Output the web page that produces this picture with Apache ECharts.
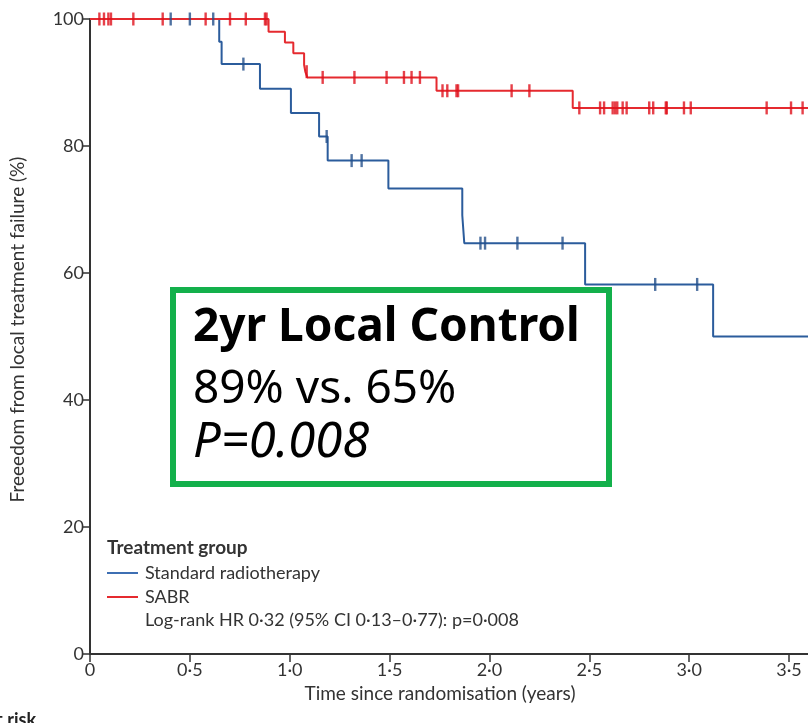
<!DOCTYPE html>
<html>
<head>
<meta charset="utf-8">
<script src="https://cdn.jsdelivr.net/npm/echarts@6/dist/echarts.min.js"></script>
<style>
html,body{margin:0;padding:0;background:#fff;}
#chart{width:808px;height:723px;}
</style>
</head>
<body>
<div id="chart"></div>
<script>
// Kaplan-Meier step points [years, %]
var standardSteps = [[0,100],[0.647,96.4],[0.659,92.9],[0.851,89.0],[1.006,85.2],[1.147,81.5],[1.19,77.7],[1.494,73.3],[1.864,69.1],[1.874,64.7],[2.479,58.2],[3.12,50.0],[3.6,50.0]];
var sabrSteps = [[0,100],[0.894,98.0],[0.976,96.3],[1.018,94.6],[1.072,92.8],[1.078,91.7],[1.088,90.8],[1.735,88.7],[2.417,86.0],[3.6,86.0]];
// Censor marks [years, %]
var standardCensored = [[0.404,100],[0.5,100],[0.617,100],[0.768,92.9],[1.185,81.5],[1.31,77.7],[1.36,77.7],[1.955,64.7],[1.978,64.7],[2.14,64.7],[2.366,64.7],[2.83,58.2],[3.04,58.2]];
var sabrCensored = [[0.047,100],[0.07,100],[0.092,100],[0.105,100],[0.217,100],[0.364,100],[0.579,100],[0.701,100],[0.78,100],[0.876,100],[0.884,100],[1.085,91.7],[1.165,90.8],[1.324,90.8],[1.485,90.8],[1.572,90.8],[1.61,90.8],[1.652,90.8],[1.765,88.7],[1.789,88.7],[1.835,88.7],[1.843,88.7],[2.111,88.7],[2.2,88.7],[2.45,86.0],[2.554,86.0],[2.574,86.0],[2.617,86.0],[2.629,86.0],[2.64,86.0],[2.667,86.0],[2.687,86.0],[2.8,86.0],[2.82,86.0],[2.883,86.0],[2.888,86.0],[2.974,86.0],[3.008,86.0],[3.388,86.0],[3.51,86.0],[3.568,86.0]];
var seriesNames = ['Standard radiotherapy','SABR'];
var xTicks = [0,0.5,1,1.5,2,2.5,3,3.5];
var yTicks = [0,20,40,60,80,100];

var BLUE = '#2b5c9c', RED = '#e52a2f';
var FONT = "Lato, 'Liberation Sans', sans-serif";
var chart = echarts.init(document.getElementById('chart'), null, {renderer:'canvas'});
chart.setOption({
  animation:false,
  grid:{left:90,right:0,top:19,bottom:69,containLabel:false},
  xAxis:{type:'value',min:0,max:3.595,interval:0.5,
    axisLine:{lineStyle:{color:'#333',width:2}},
    axisTick:{length:8,lineStyle:{color:'#333',width:1.5}},
    axisLabel:{fontFamily:FONT,fontSize:18,color:'#333',margin:7,showMaxLabel:false,
      formatter:function(v){ if(Math.abs(v*2-Math.round(v*2))>1e-6||xTicks.indexOf(Math.round(v*10)/10)<0) return ''; return v===0?'0':v.toFixed(1).replace('.','·');}},
    splitLine:{show:false},
    name:'Time since randomisation (years)',nameLocation:'middle',nameGap:19,
    nameTextStyle:{fontFamily:FONT,fontSize:19,color:'#333',padding:[0,18,0,0]}
  },
  yAxis:{type:'value',min:0,max:100,interval:20,
    axisLine:{show:true,lineStyle:{color:'#333',width:2}},
    axisTick:{show:true,length:8,lineStyle:{color:'#333',width:1.5}},
    axisLabel:{fontFamily:FONT,fontSize:18,color:'#333',margin:6,
      formatter:function(v){return yTicks.indexOf(v)>=0?String(v):'';}},
    splitLine:{show:false},
    name:'Freeedom from local treatment failure (%)',nameLocation:'middle',nameGap:63,
    nameTextStyle:{fontFamily:FONT,fontSize:19,color:'#333',padding:[0,0,0,14]}
  },
  legend:{orient:'vertical',left:107,top:564,padding:0,itemWidth:31,itemHeight:2,itemGap:6,icon:'rect',
    data:[{name:seriesNames[0],itemStyle:{color:'#3e6fb3'}},{name:seriesNames[1],itemStyle:{color:RED}}],
    textStyle:{fontFamily:FONT,fontSize:18,color:'#333',padding:[0,0,0,2]},selectedMode:false},
  series:[
    {name:seriesNames[0],type:'line',step:'end',data:standardSteps,showSymbol:false,symbol:'none',
      lineStyle:{color:BLUE,width:2},itemStyle:{color:BLUE},z:3},
    {name:seriesNames[1],type:'line',step:'end',data:sabrSteps,showSymbol:false,symbol:'none',
      lineStyle:{color:RED,width:2},itemStyle:{color:RED},z:3},
    {name:'std-censor',type:'scatter',data:standardCensored,symbol:'rect',symbolSize:[2.4,13],
      itemStyle:{color:'#234f8a'},z:4},
    {name:'sabr-censor',type:'scatter',data:sabrCensored,symbol:'rect',symbolSize:[2.4,13],
      itemStyle:{color:'#e0101c'},z:4}
  ],
  graphic:[
    {type:'text',left:107,top:538,style:{text:'Treatment group',fontFamily:FONT,fontSize:19,fontWeight:'bold',fill:'#333'}},
    {type:'text',left:145,top:611,style:{text:'Log-rank HR 0·32 (95% CI 0·13–0·77): p=0·008',fontFamily:FONT,fontSize:18,fill:'#333'}},
    {type:'text',right:772,top:711,style:{text:'Number at risk',fontFamily:FONT,fontSize:18,fontWeight:'bold',fill:'#222'}},
    {type:'rect',shape:{x:173,y:290,width:436,height:194},style:{fill:'#fff',stroke:'#13b04b',lineWidth:6},z:10},
    {type:'text',x:193,y:328,z:11,style:{text:'2yr Local Control',fontFamily:"'Noto Sans', sans-serif",fontSize:46,fontWeight:'bold',fill:'#000',verticalAlign:'middle'}},
    {type:'text',x:193,y:390,z:11,style:{text:'89% vs. 65%',fontFamily:"'Noto Sans', sans-serif",fontSize:46,fill:'#000',verticalAlign:'middle'}},
    {type:'text',x:193,y:443,z:11,style:{text:'P=0.008',fontFamily:"'Noto Sans', sans-serif",fontSize:49,fontStyle:'italic',fill:'#000',verticalAlign:'middle'}}
  ]
});
</script>
</body>
</html>
